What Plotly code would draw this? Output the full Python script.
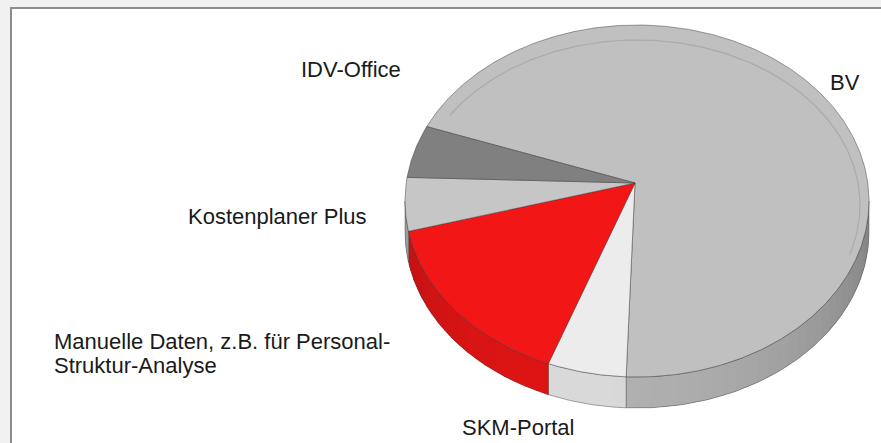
import numpy as np
import plotly.graph_objects as go

# ---- data (percent shares) ----
labels = ["BV", "SKM-Portal", "Manuelle Daten, z.B. für Personal-<br>Struktur-Analyse",
          "Kostenplaner Plus", "IDV-Office"]
values = [68.8, 5.5, 16.0, 4.9, 4.8]
colors = [(192, 192, 192), (236, 236, 236), (242, 22, 22), (198, 198, 198), (128, 128, 128)]

# ---- 3D-pie geometry (pixel-like coordinates) ----
W, H = 881, 443
cx, cy, rx, ry = 637.0, 201.0, 232.0, 176.0
ax_, ay_ = 635.0, 183.0          # projected pie centre (perspective apex)
depth = 31.0
start = 295.0                   # degrees, clockwise from top

def pt(theta_deg, dz=0.0):
    t = np.radians(theta_deg)
    return cx + rx * np.sin(t), cy - ry * np.cos(t) + dz

def rgb(c, f=1.0):
    return "rgb(%d,%d,%d)" % tuple(max(0, min(255, int(round(v * f)))) for v in c)

def shade(theta):
    return 0.72 + 0.20 * np.cos(np.radians(theta - 195))

fig = go.Figure()

total = sum(values)
angles = []
a = start
for v in values:
    b = a + 360.0 * v / total
    angles.append((a, b))
    a = b

# sides (visible front part: 90..270 deg)
for (a0, a1), col in zip(angles, colors):
    for k in range(-1, 2):
        lo = max(a0, 90 + 360 * k)
        hi = min(a1, 270 + 360 * k)
        if hi <= lo:
            continue
        tt = np.linspace(lo, hi, 80)
        xs_t, ys_t = zip(*[pt(t) for t in tt])
        xs_b, ys_b = zip(*[pt(t, depth) for t in tt[::-1]])
        xs = list(xs_t) + list(xs_b) + [xs_t[0]]
        ys = list(ys_t) + list(ys_b) + [ys_t[0]]
        fig.add_trace(go.Scatter(x=xs, y=ys, mode="lines", fill="toself",
                                 fillcolor=rgb(col, shade((lo + hi) / 2)),
                                 line=dict(width=0), hoverinfo="skip", showlegend=False))
        n = max(2, int((hi - lo) / 3) + 1)
        th = np.linspace(lo, hi, n)
        for i in range(n - 1):
            t0, t1 = th[i], min(th[i + 1] + 0.4, hi)
            f = shade((th[i] + th[i + 1]) / 2)
            x0, y0 = pt(t0)
            x1, y1 = pt(t1)
            x2, y2 = pt(t1, depth)
            x3, y3 = pt(t0, depth)
            fig.add_trace(go.Scatter(x=[x0, x1, x2, x3, x0], y=[y0, y1, y2, y3, y0],
                                     mode="lines", fill="toself", fillcolor=rgb(col, f),
                                     line=dict(width=0),
                                     hoverinfo="skip", showlegend=False))
        fig.add_trace(go.Scatter(x=xs, y=ys, mode="lines",
                                 line=dict(color="rgba(70,70,70,0.55)", width=0.8),
                                 hoverinfo="skip", showlegend=False))

# top surfaces
for (a0, a1), col, lab in zip(angles, colors, labels):
    tt = np.linspace(a0, a1, max(8, int(a1 - a0) * 2))
    xs = [ax_] + [pt(t)[0] for t in tt] + [ax_]
    ys = [ay_] + [pt(t)[1] for t in tt] + [ay_]
    fig.add_trace(go.Scatter(x=xs, y=ys, mode="lines", fill="toself",
                             fillcolor=rgb(col), name=lab.replace("<br>", " "),
                             line=dict(color="rgba(60,60,60,0.6)", width=0.8),
                             hoverinfo="name", showlegend=False))

# faint bevel rim on the big slice
a0, a1 = angles[0]
tt = np.linspace(a0 + 8, a1 - 75, 200)
fig.add_trace(go.Scatter(x=[cx + (rx - 9) * np.sin(np.radians(t)) for t in tt],
                         y=[cy + 4 - (ry - 11) * np.cos(np.radians(t)) for t in tt],
                         mode="lines", line=dict(color="rgba(165,165,165,0.8)", width=1.2),
                         hoverinfo="skip", showlegend=False))

# ---- labels ----
font = dict(family="Liberation Sans, Arial, sans-serif", size=22, color="#1a1a1a")
lab_pos = [
    (828, 82, "left", [labels[0]]),
    (518, 427, "center", [labels[1]]),
    (52, 341, "left", labels[2].split("<br>")),
    (369, 216, "right", [labels[3]]),
    (403, 69, "right", [labels[4]]),
]
for x, y, anc, lines in lab_pos:
    for j, line in enumerate(lines):
        fig.add_annotation(x=x, y=y + 24 * j, text=line, showarrow=False,
                           xanchor=anc, yanchor="middle", font=font,
                           xref="x", yref="y")

fig.add_shape(type="rect", x0=11, y0=8, x1=W + 20, y1=H + 20, xref="x", yref="y",
              fillcolor="white", line=dict(color="#8c8c8c", width=2), layer="below")

fig.update_layout(
    width=W, height=H, margin=dict(l=0, r=0, t=0, b=0),
    paper_bgcolor="#f1f1f1", plot_bgcolor="rgba(0,0,0,0)",
    xaxis=dict(range=[0, W], visible=False, fixedrange=True),
    yaxis=dict(range=[H, 0], visible=False, fixedrange=True),
    showlegend=False,
)
fig.write_html("out.html", config={"displayModeBar": False},
               post_script="document.body.style.margin='0';document.body.style.overflow='hidden';")
